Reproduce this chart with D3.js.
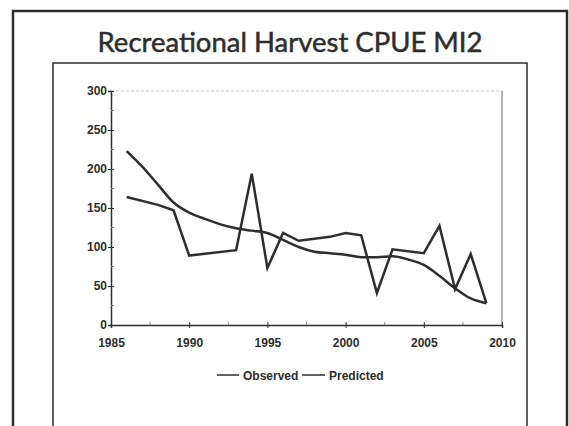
<!DOCTYPE html>
<html>
<head>
<meta charset="utf-8">
<script src="https://cdn.jsdelivr.net/npm/d3@7"></script>
<style>
  body { margin: 0; background: #fff; }
  svg { display: block; }
</style>
</head>
<body>
<div class="chart"></div>
<script>
// Data
const obsYears  = [1986, 1988, 1989, 1990, 1993, 1994, 1995, 1996, 1997, 1999, 2000, 2001, 2002, 2003, 2005, 2006, 2007, 2008, 2009];
const obsValues = [164, 154, 147, 89, 96, 194, 73, 118, 108, 113, 118, 115, 41, 97, 92, 127, 46, 91, 28];
const predYears  = [1986, 1987, 1988, 1989, 1990, 1991, 1992, 1993, 1994, 1995, 1996, 1997, 1998, 1999, 2000, 2001, 2002, 2003, 2004, 2005, 2006, 2007, 2008, 2009];
const predValues = [223, 203, 180, 157, 144, 136, 129, 124, 121, 118, 109, 100, 94, 92, 90, 87, 87, 88, 84, 77, 63, 47, 34, 28];
const yTicks = [0, 50, 100, 150, 200, 250, 300];
const xTicks = [1985, 1990, 1995, 2000, 2005, 2010];
const seriesNames = ["Observed", "Predicted"];
const titleText = "Recreational Harvest CPUE MI2";

const W = 569, H = 426;
const ink = "#2e2e2e";

const svg = d3.select(".chart").append("svg")
    .attr("width", W).attr("height", H);

// slide frame
svg.append("rect")
    .attr("x", 13).attr("y", 11).attr("width", 554).attr("height", 430)
    .attr("fill", "none").attr("stroke", ink).attr("stroke-width", 2.5);

// title, sized to the width seen on the slide
const title = svg.append("text")
    .attr("x", 290).attr("y", 52)
    .attr("text-anchor", "middle")
    .attr("font-family", "Lato, 'Open Sans', sans-serif")
    .attr("font-size", 28)
    .attr("fill", ink)
    .attr("stroke", ink).attr("stroke-width", 0.5)
    .text(titleText);
const tw = title.node().getComputedTextLength();
title.attr("font-size", 28 * 385 / tw);

// chart box
svg.append("rect")
    .attr("x", 53).attr("y", 63).attr("width", 474).attr("height", 375)
    .attr("fill", "none").attr("stroke", ink).attr("stroke-width", 1.5);

// scales
const x = d3.scaleLinear().domain([1985, 2010]).range([111, 502]);
const y = d3.scaleLinear().domain([0, 300]).range([325, 91]);

// plot border (top dotted, right thin)
svg.append("line")
    .attr("x1", x(1985)).attr("x2", x(2010)).attr("y1", y(300)).attr("y2", y(300))
    .attr("stroke", "#c4c4c4").attr("stroke-width", 1).attr("stroke-dasharray", "3,2");
svg.append("line")
    .attr("x1", x(2010)).attr("x2", x(2010)).attr("y1", y(300)).attr("y2", y(0))
    .attr("stroke", "#666").attr("stroke-width", 1);

const font = "'Liberation Sans', Arial, sans-serif";
const fs = 12;

// y axis
const yAxis = svg.append("g")
    .attr("transform", "translate(" + x(1985) + ",0)")
    .call(d3.axisLeft(y).tickValues(yTicks).tickSize(3).tickPadding(4));
yAxis.select(".domain").attr("stroke", ink).attr("stroke-width", 1.5);
yAxis.selectAll(".tick line").attr("stroke", ink).attr("x2", 3).attr("x1", -3);
yAxis.selectAll("text")
    .attr("font-family", font).attr("font-size", fs).attr("font-weight", "bold")
    .attr("fill", ink).attr("x", -4);
// minor y ticks
svg.append("g").selectAll("line")
    .data(d3.range(25, 300, 50))
    .join("line")
    .attr("x1", x(1985)).attr("x2", x(1985) + 3)
    .attr("y1", d => y(d)).attr("y2", d => y(d))
    .attr("stroke", "#777");

// x axis
const xAxis = svg.append("g")
    .attr("transform", "translate(0," + y(0) + ")")
    .call(d3.axisBottom(x).tickValues(xTicks).tickFormat(d3.format("d")).tickSize(3).tickPadding(10));
xAxis.select(".domain").attr("stroke", ink).attr("stroke-width", 1.5);
xAxis.selectAll(".tick line").attr("stroke", ink).attr("y1", -3).attr("y2", 3);
xAxis.selectAll("text")
    .attr("font-family", font).attr("font-size", fs).attr("font-weight", "bold")
    .attr("fill", ink);
// minor x ticks
svg.append("g").selectAll("line")
    .data(d3.range(1987.5, 2010, 5))
    .join("line")
    .attr("x1", d => x(d)).attr("x2", d => x(d))
    .attr("y1", y(0) - 3).attr("y2", y(0))
    .attr("stroke", "#888");

// lines
const obs = obsYears.map((d, i) => ({x: d, y: obsValues[i]}));
const pred = predYears.map((d, i) => ({x: d, y: predValues[i]}));

svg.append("path").datum(pred)
    .attr("fill", "none").attr("stroke", ink).attr("stroke-width", 2.5)
    .attr("stroke-linejoin", "round")
    .attr("d", d3.line().x(d => x(d.x)).y(d => y(d.y)).curve(d3.curveMonotoneX));
svg.append("path").datum(obs)
    .attr("fill", "none").attr("stroke", ink).attr("stroke-width", 2.5)
    .attr("stroke-linejoin", "miter")
    .attr("d", d3.line().x(d => x(d.x)).y(d => y(d.y)));

// legend
const legendLineX = [217, 302];
const legendTextX = [243, 329];
const legend = svg.append("g");
seriesNames.forEach((name, i) => {
    legend.append("line")
        .attr("x1", legendLineX[i]).attr("x2", legendTextX[i] - 4)
        .attr("y1", 375).attr("y2", 375)
        .attr("stroke", ink).attr("stroke-width", 1.5);
    legend.append("text")
        .attr("x", legendTextX[i]).attr("y", 379.5)
        .attr("font-family", font).attr("font-size", fs).attr("font-weight", "bold")
        .attr("fill", ink)
        .text(name);
});
</script>
</body>
</html>
